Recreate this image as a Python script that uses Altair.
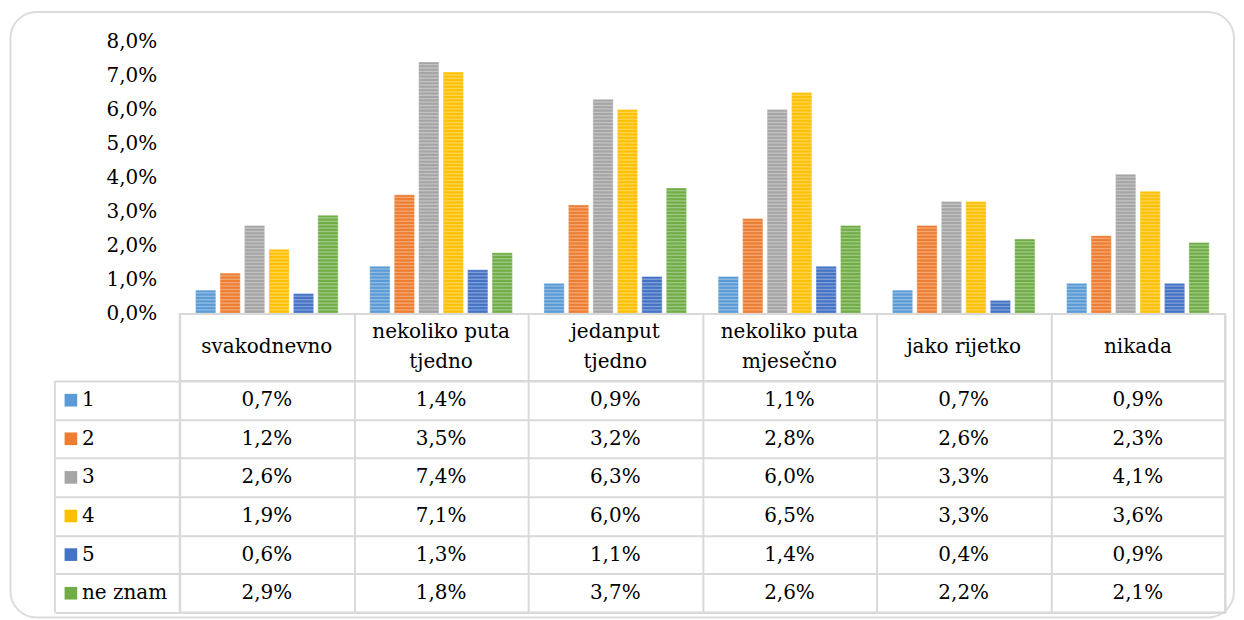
import altair as alt
import pandas as pd

categories = ["svakodnevno", "nekoliko puta tjedno", "jedanput tjedno",
              "nekoliko puta mjesečno", "jako rijetko", "nikada"]
header_line1 = ["svakodnevno", "nekoliko puta", "jedanput", "nekoliko puta", "jako rijetko", "nikada"]
header_line2 = ["", "tjedno", "tjedno", "mjesečno", "", ""]
series = ["1", "2", "3", "4", "5", "ne znam"]
colors = ["#5B9BD5", "#ED7D31", "#A5A5A5", "#FFC000", "#4472C4", "#70AD47"]

s1 = [0.7, 1.4, 0.9, 1.1, 0.7, 0.9]
s2 = [1.2, 3.5, 3.2, 2.8, 2.6, 2.3]
s3 = [2.6, 7.4, 6.3, 6.0, 3.3, 4.1]
s4 = [1.9, 7.1, 6.0, 6.5, 3.3, 3.6]
s5 = [0.6, 1.3, 1.1, 1.4, 0.4, 0.9]
s6 = [2.9, 1.8, 3.7, 2.6, 2.2, 2.1]
y_ticks = [0, 0.01, 0.02, 0.03, 0.04, 0.05, 0.06, 0.07, 0.08]

rows = []
for name, vals in zip(series, [s1, s2, s3, s4, s5, s6]):
    for c, v in zip(categories, vals):
        rows.append({"category": c, "series": name, "value": v / 100,
                     "label": f"{v:.1f}%".replace(".", ",")})
df = pd.DataFrame(rows)
hdr = pd.DataFrame({"category": categories,
                    "header": [[a, b] if b else [a] for a, b in zip(header_line1, header_line2)],
                    "lines": [2 if b else 1 for b in header_line2]})
ser = pd.DataFrame({"series": series})

FONT = "DejaVu Serif"
GRID = "#d9d9d9"
W = 1047

x_scale = alt.Scale(domain=categories, paddingInner=0, paddingOuter=0)
off_scale = alt.Scale(domain=series, paddingInner=0.17, paddingOuter=0.646)
color_scale = alt.Scale(domain=series, range=colors)
y_scale = alt.Scale(domain=[0, 0.08], nice=False)

x_enc = alt.X("category:N", scale=x_scale, axis=None, sort=categories)
xo_enc = alt.XOffset("series:N", scale=off_scale, sort=series)

y_axis = alt.Axis(values=y_ticks, title=None, domain=False, ticks=False,
                  grid=False, labelFont=FONT, labelFontSize=20,
                  labelColor="#000000", labelPadding=23, labelOverlap=False,
                  labelExpr="replace(format(datum.value, '.1%'), '.', ',')")

bars = alt.Chart(df).mark_bar(stroke="white", strokeWidth=0.6, strokeOpacity=0.6).encode(
    x=x_enc,
    xOffset=xo_enc,
    y=alt.Y("value:Q", scale=y_scale, axis=y_axis),
    color=alt.Color("series:N", scale=color_scale, legend=None),
)

stripes = alt.Chart(df).transform_calculate(
    s="sequence(0, datum.value, 0.001)"
).transform_flatten(["s"]).transform_calculate(
    s2="min(datum.s + 0.0004, datum.value)"
).mark_rect(color="white", opacity=0.32).encode(
    x=x_enc, xOffset=xo_enc,
    y=alt.Y("s:Q", scale=y_scale, axis=y_axis), y2="s2:Q"
)

frame = alt.Chart(alt.Data(values=[{}])).mark_rect(
    fill="transparent", stroke="#dcdcdc", strokeWidth=2, cornerRadius=26
).encode(x=alt.value(-169.5), x2=alt.value(1056), y=alt.value(-29.5), y2=alt.value(577))

top = alt.layer(frame, bars, stripes).properties(
    width=W, height=273, view=alt.ViewBackground(stroke="transparent")
)

grid_x_axis = alt.Axis(title=None, labels=False, ticks=False, domain=False, grid=True,
                       gridColor=GRID, gridWidth=2, tickBand="extent")

hx = alt.X("category:N", scale=x_scale, axis=grid_x_axis, sort=categories)
header1 = alt.Chart(hdr).transform_filter("datum.lines == 1").mark_text(
    font=FONT, fontSize=20, color="#000000", lineHeight=30, baseline="middle"
).encode(x=hx, text="header")
header2 = alt.Chart(hdr).transform_filter("datum.lines == 2").mark_text(
    font=FONT, fontSize=20, color="#000000", lineHeight=30, baseline="middle", dy=-15
).encode(x=hx, text="header")
header = alt.layer(header1, header2).properties(width=W, height=67)

y_rows = alt.Scale(domain=series, paddingInner=0, paddingOuter=0)

values = alt.Chart(df).mark_text(font=FONT, fontSize=20, color="#000000").encode(
    x=alt.X("category:N", scale=x_scale, axis=grid_x_axis, sort=categories),
    y=alt.Y("series:N", scale=y_rows, sort=series,
            axis=alt.Axis(title=None, labels=False, domain=False, ticks=True,
                          tickSize=125, tickColor=GRID, tickWidth=2, tickBand="extent",
                          grid=True, gridColor=GRID, gridWidth=2)),
    text="label:N",
)

left_border = alt.Chart(alt.Data(values=[{}])).mark_rule(
    color=GRID, strokeWidth=2
).encode(x=alt.value(-125), y=alt.value(0), y2=alt.value(232))

keys = alt.Chart(ser).mark_square(size=160, opacity=1).encode(
    x=alt.value(-109),
    y=alt.Y("series:N", scale=y_rows, sort=series),
    color=alt.Color("series:N", scale=color_scale, legend=None),
)

key_text = alt.Chart(ser).mark_text(
    font=FONT, fontSize=20, color="#000000", align="left", baseline="middle"
).encode(
    x=alt.value(-98),
    y=alt.Y("series:N", scale=y_rows, sort=series),
    text="series:N",
)

table = alt.layer(values, left_border, keys, key_text).properties(width=W, height=232)

chart = alt.vconcat(top, header, table, spacing=0, bounds="flush").resolve_scale(
    x="independent"
).configure_view(stroke=GRID, strokeWidth=2).properties(
    padding={"left": 0, "top": 1, "right": 0, "bottom": 0}
)

chart.save("out.html", embed_options={"renderer": "svg", "actions": False})
